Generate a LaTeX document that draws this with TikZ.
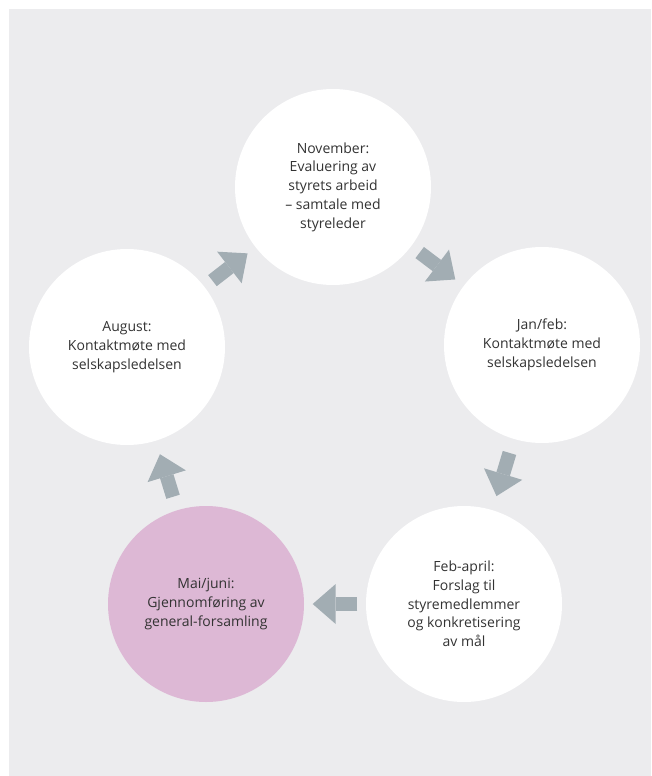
\documentclass[tikz,border=0pt]{standalone}
\usepackage{fontspec}
\setmainfont{Open Sans}
\usetikzlibrary{arrows.meta, positioning}
\definecolor{backgr}{HTML}{ECECEE}
\definecolor{arrowgray}{HTML}{A2ADB3}
\definecolor{mauve}{HTML}{DDB8D5}
\definecolor{textgray}{HTML}{333333}
\tikzstyle{phase}=[circle, fill=white, minimum size=196pt, inner sep=0pt, align=center, text=textgray, font=\fontsize{14}{18.7}\selectfont]
\tikzstyle{flow}=[arrowgray, line width=14pt, -{Triangle[length=23pt, width=40pt, line width=0pt]}]

\begin{document}
\begin{tikzpicture}[x=1pt, y=-1pt, node distance=100pt, on grid]
  \useasboundingbox (0,0) rectangle (651,776);
  \fill[backgr] (9,9) rectangle (651,776);
  \node[phase] (nov) at (333,187) {November:\\Evaluering av\\styrets arbeid\\– samtale med\\styreleder};
  \node[phase] (jan) [below right=158pt and 209pt of nov] {Jan/feb:\\Kontaktmøte med\\selskapsledelsen};
  \node[phase] (feb) [below left=259pt and 78pt of jan] {Feb-april:\\Forslag til\\styremedlemmer\\og konkretisering\\av mål};
  \node[phase, fill=mauve] (mai) [left=258pt of feb] {Mai/juni:\\Gjennomføring av\\general-forsamling};
  \node[phase] (aug) [above left=257pt and 79pt of mai] {August:\\Kontaktmøte med\\selskapsledelsen};
  \path[flow] (aug) edge[shorten <=10pt, shorten >=10pt] (nov);
  \path[flow] (nov) edge[shorten <=10.5pt, shorten >=10.5pt] (jan);
  \path[flow] (jan) edge[shorten <=14.5pt, shorten >=14.5pt] (feb);
  \path[flow] (feb) edge[shorten <=8.5pt, shorten >=8.5pt] (mai);
  \path[flow] (mai) edge[shorten <=14pt, shorten >=14pt] (aug);
\end{tikzpicture}
\end{document}
